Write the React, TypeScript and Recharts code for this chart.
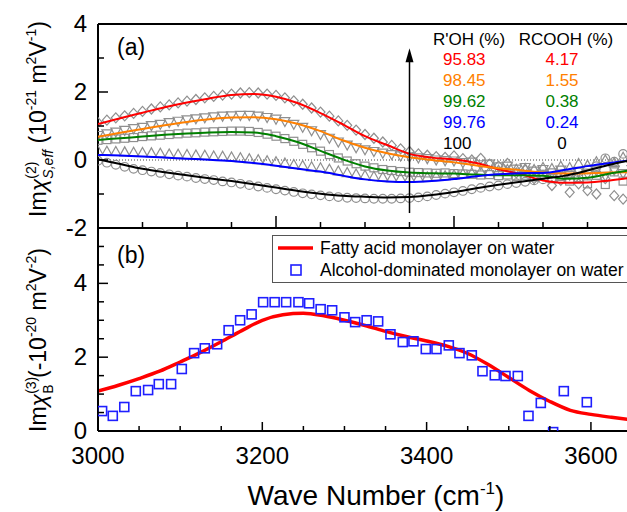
import React from "react";
import { ComposedChart, Line, Scatter, XAxis, YAxis, ReferenceLine, Legend } from "recharts";

const FONT = "'Liberation Sans', Arial, Helvetica, sans-serif";
const MARK = "#8f8f8f";

// panel (a) fitted curves
const fitX = [3000, 3025, 3050, 3075, 3100, 3125, 3150, 3175, 3200, 3225, 3250, 3275, 3300, 3325, 3350, 3375, 3400, 3425, 3450, 3475, 3500, 3525, 3550, 3575, 3600];
const fitRed = [1.06, 1.23, 1.39, 1.55, 1.69, 1.81, 1.91, 1.94, 1.86, 1.67, 1.38, 1.05, 0.7, 0.44, 0.18, 0.07, 0.02, -0.09, -0.27, -0.42, -0.6, -0.67, -0.66, -0.6, -0.52];
const fitOrange = [0.68, 0.8, 0.91, 1.02, 1.12, 1.2, 1.25, 1.26, 1.2, 1.06, 0.85, 0.58, 0.36, 0.2, 0.08, 0.0, -0.07, -0.16, -0.24, -0.3, -0.37, -0.4, -0.39, -0.37, -0.36];
const fitGreen = [0.59, 0.64, 0.69, 0.74, 0.78, 0.81, 0.82, 0.81, 0.7, 0.52, 0.27, 0.02, -0.19, -0.31, -0.37, -0.39, -0.4, -0.43, -0.45, -0.45, -0.46, -0.55, -0.52, -0.4, -0.29];
const fitBlue = [0.15, 0.13, 0.1, 0.07, 0.04, 0.01, -0.03, -0.09, -0.17, -0.26, -0.34, -0.46, -0.57, -0.63, -0.65, -0.62, -0.56, -0.48, -0.42, -0.39, -0.38, -0.29, -0.18, -0.09, 0.0];
const fitBlack = [0.02, -0.12, -0.26, -0.36, -0.45, -0.54, -0.62, -0.71, -0.81, -0.91, -0.99, -1.05, -1.08, -1.1, -1.09, -1.03, -0.94, -0.83, -0.73, -0.64, -0.55, -0.46, -0.31, -0.14, 0.0];

// panel (a) measured points
const ptX = [3000, 3010, 3020, 3030, 3040, 3050, 3060, 3070, 3080, 3090, 3100, 3110, 3120, 3130, 3140, 3150, 3160, 3170, 3180, 3190, 3200, 3210, 3220, 3230, 3240, 3250, 3260, 3270, 3280, 3290, 3300, 3310, 3320, 3330, 3340, 3350, 3360, 3370, 3380, 3390, 3400, 3410, 3420, 3430, 3440, 3450, 3460, 3470, 3480, 3490, 3500, 3510, 3520, 3530, 3540, 3550, 3560, 3570, 3580, 3590, 3600];
const ptDiamond = [1.1, 1.17, 1.24, 1.3, 1.37, 1.43, 1.5, 1.56, 1.62, 1.68, 1.73, 1.78, 1.83, 1.87, 1.91, 1.94, 1.97, 1.98, 1.97, 1.94, 1.9, 1.83, 1.74, 1.64, 1.53, 1.41, 1.29, 1.15, 1.02, 0.88, 0.75, 0.64, 0.53, 0.43, 0.33, 0.25, 0.18, 0.14, 0.1, 0.08, 0.12, 0.04, 0.0, 0.05, -0.12, -0.18, -0.1, -0.38, -0.3, -0.55, -0.45, -0.75, -0.6, -0.95, -0.7, -0.9, -1.0, -0.55, -1.05, -1.15, -0.75];
const ptDown = [0.72, 0.77, 0.82, 0.87, 0.92, 0.96, 1.01, 1.05, 1.1, 1.14, 1.18, 1.21, 1.24, 1.27, 1.29, 1.3, 1.31, 1.31, 1.29, 1.25, 1.2, 1.13, 1.05, 0.96, 0.86, 0.75, 0.64, 0.53, 0.44, 0.36, 0.3, 0.25, 0.2, 0.16, 0.12, 0.09, 0.06, 0.04, 0.0, -0.02, -0.03, -0.08, -0.06, -0.14, -0.12, -0.2, -0.18, -0.27, -0.22, -0.33, -0.28, -0.38, -0.3, -0.45, -0.35, -0.42, -0.32, -0.48, -0.3, -0.4, -0.28];
const ptSquare = [0.58, 0.6, 0.62, 0.64, 0.66, 0.69, 0.71, 0.73, 0.75, 0.77, 0.79, 0.8, 0.82, 0.83, 0.84, 0.85, 0.85, 0.84, 0.81, 0.76, 0.7, 0.63, 0.55, 0.46, 0.36, 0.26, 0.16, 0.06, -0.03, -0.11, -0.18, -0.23, -0.28, -0.31, -0.34, -0.36, -0.37, -0.38, -0.39, -0.38, -0.4, -0.41, -0.42, -0.44, -0.43, -0.46, -0.44, -0.48, -0.45, -0.5, -0.42, -0.55, -0.48, -0.62, -0.52, -0.7, -0.45, -0.72, -0.35, -0.62, -0.2];
const ptUp = [0.27, 0.26, 0.25, 0.24, 0.23, 0.22, 0.21, 0.2, 0.18, 0.17, 0.16, 0.15, 0.14, 0.12, 0.11, 0.09, 0.07, 0.04, 0.01, -0.02, -0.05, -0.09, -0.13, -0.16, -0.2, -0.23, -0.27, -0.32, -0.37, -0.41, -0.45, -0.48, -0.5, -0.52, -0.53, -0.53, -0.52, -0.5, -0.48, -0.46, -0.44, -0.4, -0.38, -0.34, -0.33, -0.3, -0.28, -0.27, -0.25, -0.28, -0.22, -0.25, -0.18, -0.22, -0.1, -0.15, -0.05, 0.0, -0.08, 0.08, 0.05];
const ptCircle = [-0.02, -0.08, -0.14, -0.2, -0.26, -0.3, -0.34, -0.38, -0.42, -0.46, -0.49, -0.53, -0.56, -0.59, -0.63, -0.66, -0.7, -0.74, -0.78, -0.82, -0.86, -0.9, -0.94, -0.98, -1.01, -1.04, -1.07, -1.09, -1.11, -1.12, -1.13, -1.14, -1.14, -1.14, -1.13, -1.12, -1.1, -1.07, -1.03, -0.99, -0.95, -0.91, -0.86, -0.82, -0.78, -0.75, -0.71, -0.68, -0.64, -0.6, -0.57, -0.53, -0.48, -0.42, -0.36, -0.28, -0.18, 0.05, -0.05, 0.18, 0.12];

// composition table of panel (a)
const rohPct = ["95.83", "98.45", "99.62", "99.76", "100"];
const acidPct = ["4.17", "1.55", "0.38", "0.24", "0"];
const rowColors = ["#ff0000", "#ff8000", "#008000", "#0000ff", "#000000"];

// panel (b)
const bulkX = [3000, 3025, 3050, 3075, 3100, 3125, 3150, 3175, 3200, 3225, 3250, 3275, 3300, 3325, 3350, 3375, 3400, 3425, 3450, 3475, 3500, 3525, 3550, 3575, 3600, 3625, 3650];
const bulkAcid = [1.08, 1.24, 1.42, 1.62, 1.87, 2.13, 2.42, 2.72, 3.0, 3.15, 3.19, 3.12, 3.0, 2.86, 2.7, 2.56, 2.44, 2.3, 2.1, 1.8, 1.45, 1.1, 0.8, 0.56, 0.45, 0.37, 0.3];
const alcX = [3005, 3018, 3032, 3046, 3061, 3074, 3089, 3102, 3117, 3130, 3145, 3159, 3173, 3187, 3201, 3215, 3229, 3244, 3257, 3271, 3285, 3300, 3313, 3327, 3341, 3356, 3371, 3384, 3399, 3412, 3427, 3440, 3455, 3468, 3483, 3496, 3511, 3524, 3539, 3554, 3567, 3595];
const alcY = [0.54, 0.41, 0.65, 1.08, 1.11, 1.27, 1.27, 1.68, 2.11, 2.24, 2.35, 2.73, 3.0, 3.16, 3.49, 3.49, 3.49, 3.49, 3.46, 3.3, 3.27, 3.08, 2.95, 3.0, 2.97, 2.62, 2.41, 2.43, 2.22, 2.22, 2.32, 2.11, 2.05, 1.62, 1.51, 1.49, 1.49, 0.41, 0.76, -0.03, 1.08, 0.78];

const topTicksX = [3000, 3050, 3100, 3150, 3200, 3250, 3300, 3350, 3400, 3450, 3500, 3550, 3600];
const botTicksX = [3000, 3050, 3100, 3150, 3200, 3250, 3300, 3350, 3400, 3450, 3500, 3550, 3600, 3650];
const xLabels = [3000, 3200, 3400, 3600];
const topTicksY = [-2, -1, 0, 1, 2, 3, 4];
const topLabelsY = [-2, 0, 2, 4];
const botTicksY = [0, 0.5, 1, 1.5, 2, 2.5, 3, 3.5, 4, 4.5, 5, 5.5];
const botLabelsY = [0, 2, 4];

const pts = (xs: number[], ys: number[]) => xs.map((x, i) => ({ x, y: ys[i] }));

const Diamond = ({ cx, cy }: any) => (
  <polygon points={`${cx},${cy - 5} ${cx + 4.5},${cy} ${cx},${cy + 5} ${cx - 4.5},${cy}`} fill="none" stroke={MARK} strokeWidth={1.2} />
);
const TriDown = ({ cx, cy }: any) => (
  <polygon points={`${cx - 5},${cy - 4} ${cx + 5},${cy - 4} ${cx},${cy + 5}`} fill="none" stroke={MARK} strokeWidth={1.2} />
);
const TriUp = ({ cx, cy }: any) => (
  <polygon points={`${cx - 5},${cy + 4} ${cx + 5},${cy + 4} ${cx},${cy - 5}`} fill="none" stroke={MARK} strokeWidth={1.2} />
);
const Square = ({ cx, cy }: any) => (
  <rect x={cx - 4} y={cy - 4} width={8} height={8} fill="none" stroke={MARK} strokeWidth={1.2} />
);
const Circle = ({ cx, cy }: any) => <circle cx={cx} cy={cy} r={4.3} fill="none" stroke={MARK} strokeWidth={1.2} />;
const BlueSquare = ({ cx, cy }: any) => (
  <rect x={cx - 4.5} y={cy - 4.5} width={9} height={9} fill="none" stroke="#1f1fff" strokeWidth={1.6} />
);

const Y_GAP = 11;
const yTick = (labels: number[], big: number, small: number) => (p: any) => {
  const v = p.payload.value;
  const ax = p.x + Y_GAP;
  const major = labels.includes(v);
  return (
    <g>
      <line x1={ax} x2={ax + (major ? big : small)} y1={p.y} y2={p.y} stroke="#000" strokeWidth={1.5} />
      {major && (
        <text x={p.x} y={p.y + 8} textAnchor="end" fontSize={24} fill="#000" fontFamily={FONT}>
          {v}
        </text>
      )}
    </g>
  );
};
const xTick = (labels: number[], big: number, small: number, showText: boolean) => (p: any) => {
  const v = p.payload.value;
  const major = xLabels.includes(v);
  return (
    <g>
      <line x1={p.x} x2={p.x} y1={p.y} y2={p.y - (major ? big : small)} stroke="#000" strokeWidth={1.5} />
      {showText && labels.includes(v) && (
        <text x={p.x} y={p.y + 33} textAnchor="middle" fontSize={24} fill="#000" fontFamily={FONT}>
          {v}
        </text>
      )}
    </g>
  );
};

function Arrow(p: any) {
  const x = p.x1;
  const tip = Math.min(p.y1, p.y2);
  const base = Math.max(p.y1, p.y2);
  return (
    <g>
      <line x1={x} x2={x} y1={base} y2={tip + 8} stroke="#000" strokeWidth={1.5} />
      <polygon points={`${x},${tip} ${x - 4},${tip + 14} ${x + 4},${tip + 14}`} fill="#000" />
    </g>
  );
}

function LegendBox({ payload }: any) {
  const items = [...(payload || [])].sort((a: any, b: any) => (a.type === "line" ? -1 : 0) - (b.type === "line" ? -1 : 0));
  return (
    <div style={{ width: 380, height: 46, border: "1.3px solid #555", background: "#fff" }}>
      <svg width={380} height={46}>
        {items.map((e: any, i: number) => (
          <g key={i} transform={`translate(0, ${12 + i * 22})`}>
            {e.type === "line" ? (
              <line x1={5} x2={40} y1={0} y2={0} stroke="#ff0000" strokeWidth={3.5} />
            ) : (
              <rect x={18} y={-5} width={10} height={10} fill="none" stroke="#1f1fff" strokeWidth={1.6} />
            )}
            <text x={47} y={6} fontSize={17.5} fill="#000" fontFamily={FONT}>
              {e.value}
            </text>
          </g>
        ))}
      </svg>
    </div>
  );
}

const fitSeries = [
  { ys: fitRed, color: "#ff0000" },
  { ys: fitOrange, color: "#ff8000" },
  { ys: fitGreen, color: "#008000" },
  { ys: fitBlue, color: "#0000ff" },
  { ys: fitBlack, color: "#000000" },
];
const ptSeries = [
  { ys: ptDiamond, shape: Diamond },
  { ys: ptDown, shape: TriDown },
  { ys: ptSquare, shape: Square },
  { ys: ptUp, shape: TriUp },
  { ys: ptCircle, shape: Circle },
];

export default function App() {
  const axisLine = { stroke: "#000", strokeWidth: 2 };
  return (
    <div style={{ position: "absolute", left: 0, top: 0, width: 627, height: 512, overflow: "hidden", background: "#fff", fontFamily: FONT }}>
      {/* panel (a): axes and measured points */}
      <div style={{ position: "absolute", left: 0, top: 0 }}>
        <ComposedChart width={640} height={240} margin={{ top: 24, right: 8, bottom: 0, left: 0 }}>
          <XAxis type="number" dataKey="x" domain={[3000, 3600]} ticks={topTicksX} interval={0} allowDataOverflow height={12} tickSize={0} tickMargin={0} axisLine={axisLine} tick={xTick([], 12, 6, false)} />
          <YAxis type="number" dataKey="y" domain={[-2, 4]} ticks={topTicksY} interval={0} allowDataOverflow width={98} tickSize={0} tickMargin={Y_GAP} axisLine={axisLine} tick={yTick(topLabelsY, 10, 6)} />
          <ReferenceLine y={4} stroke="#000" strokeWidth={2} />
          <ReferenceLine y={0} stroke="#444" strokeWidth={1} strokeDasharray="1 2" />
          {ptSeries.map((s, i) => (
            <Scatter key={"p" + i} data={pts(ptX, s.ys)} shape={s.shape} isAnimationActive={false} />
          ))}
        </ComposedChart>
      </div>
      {/* panel (a): fitted curves drawn above the points */}
      <div style={{ position: "absolute", left: 0, top: 0 }}>
        <ComposedChart width={640} height={240} margin={{ top: 24, right: 8, bottom: 12, left: 98 }}>
          <XAxis hide type="number" dataKey="x" domain={[3000, 3600]} allowDataOverflow />
          <YAxis hide type="number" dataKey="y" domain={[-2, 4]} allowDataOverflow />
          {fitSeries.map((s, i) => (
            <Line key={"f" + i} data={pts(fitX, s.ys)} dataKey="y" type="monotone" stroke={s.color} strokeWidth={2} dot={false} isAnimationActive={false} />
          ))}
          <ReferenceLine segment={[{ x: 3350, y: -1.56 }, { x: 3350, y: 3.29 }]} shape={Arrow} />
        </ComposedChart>
      </div>
      {/* panel (b) */}
      <div style={{ position: "absolute", left: 0, top: 210 }}>
        <ComposedChart width={640} height={302} margin={{ top: 18, right: 8, bottom: 0, left: 0 }}>
          <XAxis type="number" dataKey="x" domain={[3000, 3650]} ticks={botTicksX} interval={0} allowDataOverflow height={81} tickSize={0} tickMargin={0} axisLine={axisLine} tick={xTick(xLabels, 9, 5, true)} />
          <YAxis type="number" dataKey="y" domain={[0, 5.5]} ticks={botTicksY} interval={0} allowDataOverflow width={98} tickSize={0} tickMargin={Y_GAP} axisLine={axisLine} tick={yTick(botLabelsY, 10, 6)} />
          <Scatter data={pts(alcX, alcY)} name="Alcohol-dominated monolayer on water" legendType="square" fill="#1f1fff" shape={BlueSquare} isAnimationActive={false} />
          <Line data={pts(bulkX, bulkAcid)} dataKey="y" name="Fatty acid monolayer on water" legendType="line" type="monotone" stroke="#ff0000" strokeWidth={3.5} dot={false} isAnimationActive={false} />
          <Legend layout="vertical" align="center" verticalAlign="middle" content={LegendBox} wrapperStyle={{ left: 272, top: 25, width: 380 }} />
        </ComposedChart>
      </div>
      <svg width={627} height={512} style={{ position: "absolute", left: 0, top: 0 }} fontFamily={FONT}>
        <text x={117} y={55} fontSize={23}>(a)</text>
        <text x={117} y={263} fontSize={23}>(b)</text>
        <text x={469} y={45} fontSize={17} textAnchor="middle">R'OH (%)</text>
        <text x={566} y={45} fontSize={17} textAnchor="middle">RCOOH (%)</text>
        {rohPct.map((v, i) => (
          <text key={"r" + i} x={443} y={65 + i * 21} fontSize={17} fill={rowColors[i]}>{v}</text>
        ))}
        {acidPct.map((v, i) => (
          <text key={"c" + i} x={562} y={65 + i * 21} fontSize={17} fill={rowColors[i]} textAnchor="middle">{v}</text>
        ))}
        <text transform="translate(46,119) rotate(-90)" textAnchor="middle" fontSize={23}>
          Im<tspan fontStyle="italic">χ</tspan>
          <tspan fontSize={14} dy={-10}>(2)</tspan>
          <tspan fontSize={14} dy={17} dx={-17} fontStyle="italic">S,eff</tspan>
          <tspan dy={-7}> (10</tspan>
          <tspan fontSize={14} dy={-10}>-21</tspan>
          <tspan dy={10}> m</tspan>
          <tspan fontSize={14} dy={-10}>2</tspan>
          <tspan dy={10}>V</tspan>
          <tspan fontSize={14} dy={-10}>-1</tspan>
          <tspan dy={10}>)</tspan>
        </text>
        <text transform="translate(46,340) rotate(-90)" textAnchor="middle" fontSize={23}>
          Im<tspan fontStyle="italic">χ</tspan>
          <tspan fontSize={14} dy={-10}>(3)</tspan>
          <tspan fontSize={14} dy={17} dx={-17}>B</tspan>
          <tspan dy={-7}> (-10</tspan>
          <tspan fontSize={14} dy={-10}>-20</tspan>
          <tspan dy={10}> m</tspan>
          <tspan fontSize={14} dy={-10}>2</tspan>
          <tspan dy={10}>V</tspan>
          <tspan fontSize={14} dy={-10}>-2</tspan>
          <tspan dy={10}>)</tspan>
        </text>
        <text x={376} y={505} textAnchor="middle" fontSize={28}>
          Wave Number (cm<tspan fontSize={17} dy={-11}>-1</tspan>
          <tspan dy={11}>)</tspan>
        </text>
      </svg>
    </div>
  );
}
